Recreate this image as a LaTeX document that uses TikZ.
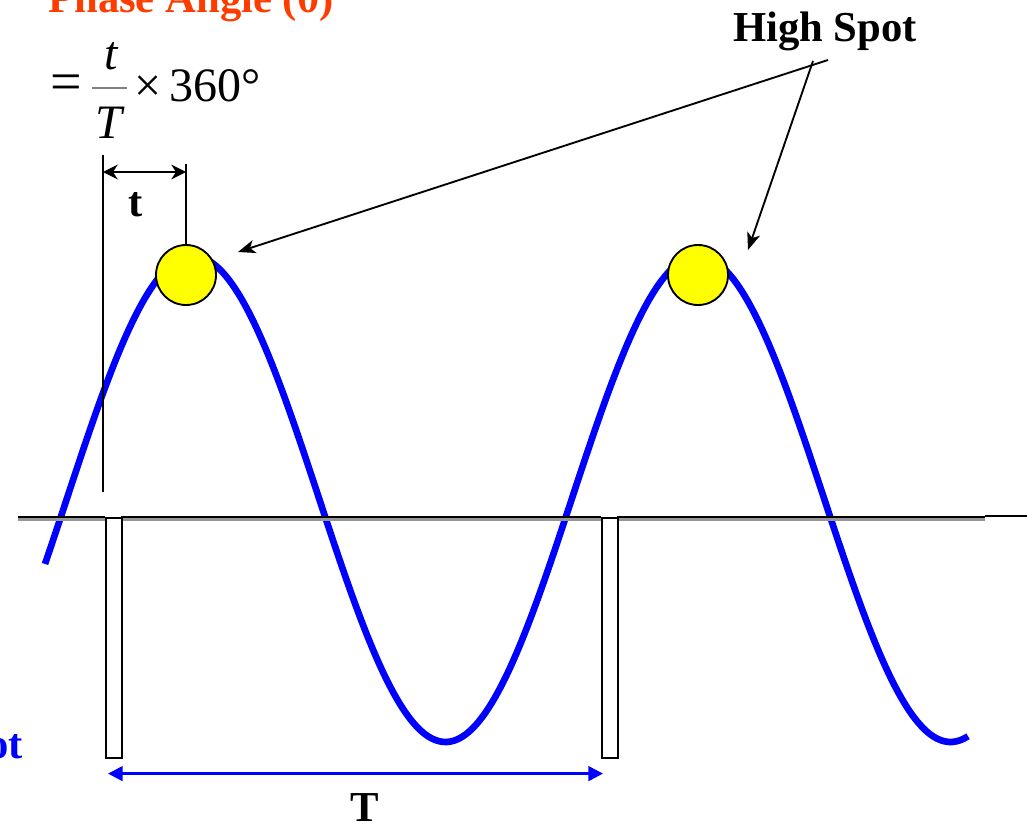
\documentclass[tikz,border=0pt]{standalone}
\usepackage{fontspec}
\setmainfont{Liberation Serif}
\definecolor{phasered}{RGB}{255,60,0}
\definecolor{waveblue}{RGB}{0,0,255}
\definecolor{spotyellow}{RGB}{255,255,0}
\definecolor{traceshadow}{RGB}{150,150,150}
\usetikzlibrary{arrows.meta,positioning,calc}

\begin{document}
\begin{tikzpicture}[x=0.75pt, y=-0.75pt,
  lbl/.style={font=\fontsize{32}{38}\selectfont\bfseries, inner sep=0pt},
  formula/.style={font=\fontsize{36}{40}\selectfont, inner sep=0pt},
  spot/.style={circle, draw=black, line width=1.4pt, fill=spotyellow, minimum size=45pt, inner sep=0pt},
  pointer/.style={-{Stealth[length=13pt,width=10pt,inset=3.5pt]}, line width=1.4pt},
  dimline/.style={<->, >={Stealth[length=11pt,width=11pt,inset=3.5pt]}, line width=1.3pt},
  periodline/.style={<->, >={Triangle[length=11pt,width=11pt]}, draw=waveblue, line width=2pt},
  thinline/.style={line width=1.3pt},
  trace/.style={line width=1.8pt},
  pulse/.style={draw=black, line width=1.2pt, minimum width=12pt, minimum height=180pt, inner sep=0pt, anchor=north west}]
  \useasboundingbox (0,0) rectangle (1027,828);

  \draw[waveblue, line width=5pt] plot[domain=45:968, samples=240, smooth] (\x, {499-243*cos((\x-193)/505*360)});

  \draw[traceshadow, trace] (18,519.5) -- (105,519.5) (121,519.5) -- (601,519.5) (617,519.5) -- (985,519.5);
  \draw[black, trace] (18,517) -- (105,517) (121,517) -- (601,517) (617,517) -- (985,517);
  \draw[thinline] (985,516) -- (1027,516);
  \node[pulse] (kp1) at (105,517) {};
  \node[pulse] (kp2) at (601,517) {};

  \node[spot] (hs1) at (186,275) {};
  \node[spot] (hs2) at (698,275) {};

  \coordinate (t0) at (103,172);
  \coordinate (t1) at (hs1.north |- t0);
  \draw[thinline] (103,155) -- (103,492);
  \draw[thinline] (hs1.north) -- ++(0,-80);
  \draw[dimline] (t0) -- (t1);
  \node[lbl, anchor=base] (tlab) at (136,216) {t};

  \draw[periodline] ($(kp1.south west)+(3,15)$) -- ($(kp2.south west)+(2,15)$);
  \node[lbl, anchor=base] (Tlab) at (365,821) {T};

  \node[lbl, anchor=base] (hstext) at (825,41.5) {High Spot};
  \coordinate (hsa) at (828,60);
  \coordinate (hsb) at (813,61);
  \draw[pointer] (hsa) -- ($(hs1)+(52,-23)$);
  \draw[pointer] (hsb) -- ($(hs2)+(50,-25)$);

  \node[lbl, text=phasered, anchor=base west] (title) at (48,12.5) {Phase Angle (θ)};
  \node[lbl, text=waveblue, anchor=base east] (dotlab) at (23,758) {ot};

  \node[formula, font=\fontsize{42}{44}\selectfont, anchor=west] (eqs) at (50,88) {=};
  \coordinate (barl) at (92,88);
  \coordinate (barr) at (127,88);
  \draw[gray, line width=1pt] (barl) -- (barr);
  \node[formula, font=\fontsize{36}{40}\selectfont\itshape] (num) at (111,56) {t};
  \node[formula, font=\fontsize{36}{40}\selectfont\itshape] (den) at (109,123) {T};
  \node[formula, anchor=base west] (mult) at (134,101) {×\,360°};
\end{tikzpicture}
\end{document}
